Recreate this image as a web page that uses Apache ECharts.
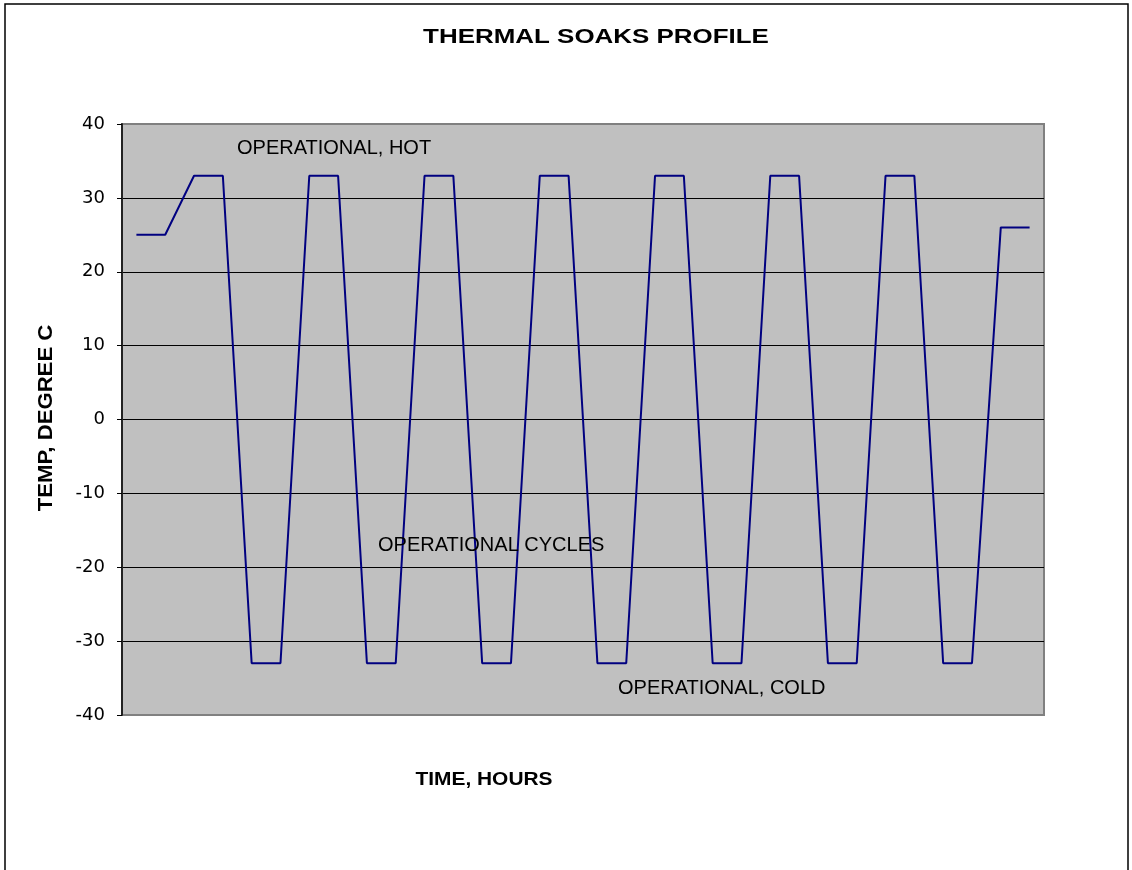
<!DOCTYPE html>
<html>
<head>
<meta charset="utf-8">
<script src="https://cdn.jsdelivr.net/npm/echarts@6/dist/echarts.min.js"></script>
<style>
  html, body { margin: 0; padding: 0; background: #fff; }
  #chart { width: 1132px; height: 870px; }
</style>
</head>
<body>
<div id="chart"></div>
<script>
// time steps (hours are not labelled on the original)
var steps = ['0', '1', '2', '3', '4', '5', '6', '7', '8', '9', '10', '11', '12', '13', '14', '15',
             '16', '17', '18', '19', '20', '21', '22', '23', '24', '25', '26', '27', '28', '29', '30', '31'];
// temperature, degree C
var temps = [25, 25, 33, 33, -33, -33, 33, 33, -33, -33, 33, 33, -33, -33, 33, 33,
             -33, -33, 33, 33, -33, -33, 33, 33, -33, -33, 33, 33, -33, -33, 26, 26];
var notes = ['OPERATIONAL, HOT', 'OPERATIONAL CYCLES', 'OPERATIONAL, COLD'];

var FONT = 'Arial, "Liberation Sans", sans-serif';

var chart = echarts.init(document.getElementById('chart'));

function note(text, x, y) {
    return {
        type: 'text', x: x, y: y, z: 10,
        style: { text: text, font: '20px ' + FONT, fill: '#000', verticalAlign: 'middle' }
    };
}

var option = {
    animation: false,
    grid: {
        left: 122, top: 124, right: 88, bottom: 155,
        show: true, backgroundColor: '#c0c0c0', borderColor: '#808080', borderWidth: 2
    },
    xAxis: {
        type: 'category',
        data: steps,
        boundaryGap: true,
        axisLine: { show: false },
        axisTick: { show: false },
        axisLabel: { show: false },
        splitLine: { show: false }
    },
    yAxis: {
        type: 'value',
        min: -40, max: 40, interval: 10,
        axisLine: { show: true, lineStyle: { color: '#222', width: 2 } },
        axisTick: { show: true, length: 5, lineStyle: { color: '#000' } },
        axisLabel: { color: '#000', fontSize: 18, margin: 17, fontFamily: '"DejaVu Sans", sans-serif' },
        splitLine: { show: true, showMinLine: false, showMaxLine: false, lineStyle: { color: '#000', width: 1 } }
    },
    series: [{
        type: 'line',
        data: temps,
        symbol: 'none',
        lineStyle: { color: '#000080', width: 2 }
    }],
    graphic: [
        { type: 'rect', shape: { x: 5, y: 4, width: 1123, height: 900 },
          style: { fill: null, stroke: '#000', lineWidth: 1.5 }, z: -1, silent: true },
        { type: 'text', x: 596, y: 38, scaleX: 1.33,
          style: { text: 'THERMAL SOAKS PROFILE', font: 'bold 19.5px ' + FONT,
                   fill: '#000', align: 'center', verticalAlign: 'middle' } },
        { type: 'text', x: 484, y: 780, scaleX: 1.1,
          style: { text: 'TIME, HOURS', font: 'bold 19px ' + FONT,
                   fill: '#000', align: 'center', verticalAlign: 'middle' } },
        { type: 'text', x: 46, y: 418, rotation: Math.PI / 2, scaleX: 1.08,
          style: { text: 'TEMP, DEGREE C', font: 'bold 20.5px ' + FONT,
                   fill: '#000', align: 'center', verticalAlign: 'middle' } },
        note(notes[0], 237, 148),
        note(notes[1], 378, 545),
        note(notes[2], 618, 688)
    ]
};

chart.setOption(option);
</script>
</body>
</html>
